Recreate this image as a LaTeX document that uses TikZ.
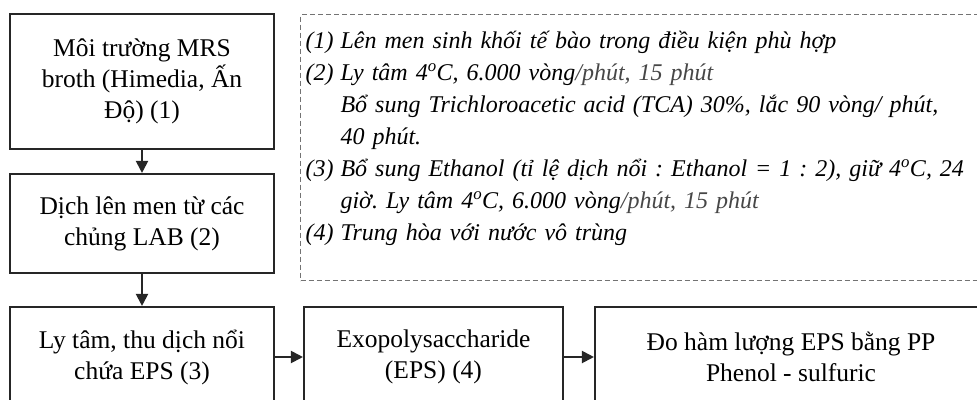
\documentclass[tikz,border=0pt]{standalone}
\usepackage{fontspec}
\setmainfont{Liberation Serif}
\usetikzlibrary{arrows.meta}

\newcommand\notelbl[1]{\makebox[35pt][l]{#1}}
\newcommand\noteind{\hspace*{35pt}}
\newcommand\lighter[1]{\textcolor{black!72}{#1}}

\tikzset{
  stepbox/.style={draw=black!85, line width=2.1pt, align=center, inner sep=0pt,
    font=\fontsize{25.5}{31}\selectfont},
  notebox/.style={draw=black!55, line width=1.1pt, dash pattern=on 5pt off 3pt,
    align=left, inner xsep=5pt, inner ysep=0pt, text width=680pt,
    text height=34pt, text depth=232pt,
    font=\fontsize{24}{32}\selectfont\itshape\frenchspacing},
  flow/.style={-{Triangle[length=12pt,width=12pt]}, line width=2pt, draw=black!85}
}

\begin{document}
\begin{tikzpicture}[x=1pt,y=-1pt]

\useasboundingbox (0,0) rectangle (977,399);
\clip (0,0) rectangle (977,399);

% left column
\node [stepbox, minimum width=264pt, minimum height=135pt] (moi) at (142,81.5)
  {Môi trường MRS\\broth (Himedia, Ấn\\Độ) (1)};
\node [stepbox, minimum width=264pt, minimum height=99pt] (dich) at (142,223.5)
  {Dịch lên men từ các\\chủng LAB (2)};
\node [stepbox, minimum width=264pt, minimum height=100pt] (lytam) at (142,357)
  {Ly tâm, thu dịch nổi\\chứa EPS (3)};

% bottom row
\node [stepbox, minimum width=259pt, minimum height=100pt] (eps) at (433.5,357)
  {Exopolysaccharide\\(EPS) (4)};
\node [stepbox, minimum width=392pt, minimum height=100pt] (doeps) at (791,357)
  {Đo hàm lượng EPS bằng PP\\Phenol - sulfuric};

% notes
\node [notebox, anchor=north west] (notes) at (300,14) {%
  \notelbl{(1)}Lên men sinh khối tế bào trong điều kiện phù hợp\\
  \notelbl{(2)}Ly tâm 4\textsuperscript{o}C, 6.000 vòng\lighter{/phút, 15 phút}\\
  \noteind Bổ sung Trichloroacetic acid (TCA) 30\%, lắc 90 vòng/ phút,\\
  \noteind 40 phút.\\
  \notelbl{(3)}Bổ sung Ethanol (tỉ lệ dịch nổi : Ethanol = 1 : 2), giữ 4\textsuperscript{o}C, 24\\
  \noteind giờ. Ly tâm 4\textsuperscript{o}C, 6.000 vòng\lighter{/phút, 15 phút}\\
  \notelbl{(4)}Trung hòa với nước vô trùng};

\draw [flow] (moi) -- (dich);
\draw [flow] (dich) -- (lytam);
\draw [flow] (lytam) -- (eps);
\draw [flow] (eps) -- (doeps);

\end{tikzpicture}
\end{document}
